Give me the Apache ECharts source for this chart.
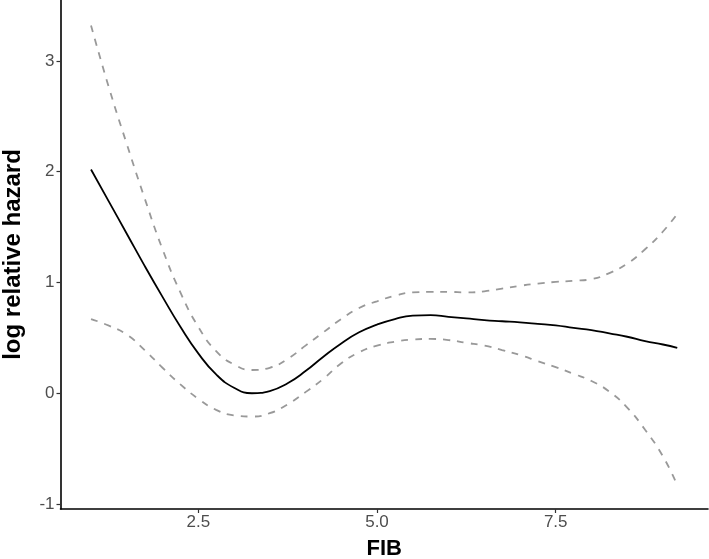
<!DOCTYPE html>
<html>
<head>
<meta charset="utf-8">
<style>
    html, body { margin: 0; padding: 0; background: #ffffff; }
    #charts { width: 709px; height: 559px; }
</style>
<script src="https://cdn.jsdelivr.net/npm/echarts@6/dist/echarts.min.js"></script>
</head>
<body>
<div id="charts"></div>
<script>
var fibValues = [1.0, 1.25, 1.5, 1.75, 2.0, 2.25, 2.5, 2.75, 3.0, 3.25, 3.5, 3.75, 4.0, 4.25, 4.5, 4.75, 5.0,
    5.25, 5.5, 5.75, 6.0, 6.25, 6.5, 6.75, 7.0, 7.25, 7.5, 7.75, 8.0, 8.25, 8.5, 8.75, 9.0, 9.2];
var fitValues = [2.02, 1.73, 1.44, 1.15, 0.87, 0.60, 0.36, 0.17, 0.05, 0.0, 0.02, 0.09, 0.20, 0.33, 0.45, 0.55, 0.62,
    0.67, 0.70, 0.705, 0.69, 0.675, 0.66, 0.65, 0.64, 0.627, 0.613, 0.59, 0.57, 0.54, 0.51, 0.47, 0.44, 0.41];
var upperValues = [3.32, 2.76, 2.25, 1.76, 1.30, 0.91, 0.60, 0.38, 0.26, 0.21, 0.23, 0.31, 0.43, 0.55, 0.67, 0.77, 0.83,
    0.88, 0.91, 0.915, 0.915, 0.91, 0.92, 0.945, 0.97, 0.99, 1.005, 1.015, 1.03, 1.085, 1.17, 1.30, 1.46, 1.62];
var lowerValues = [0.67, 0.61, 0.53, 0.39, 0.23, 0.08, -0.05, -0.15, -0.20, -0.21, -0.18, -0.10, 0.01, 0.13, 0.27, 0.37, 0.43,
    0.465, 0.485, 0.49, 0.48, 0.455, 0.43, 0.39, 0.345, 0.29, 0.235, 0.175, 0.11, 0.015, -0.13, -0.33, -0.57, -0.83];
var xTicks = [2.5, 5.0, 7.5];
var yTicks = [-1, 0, 1, 2, 3];

(function () {
    function pairs(ys) {
        return fibValues.map(function (x, i) { return [x, ys[i]]; });
    }
    var font = 'Arial, "Liberation Sans", sans-serif';
    var dom = document.getElementById("charts");
    var myChart = echarts.init(dom);
    var lineAxis = { show: true, onZero: false, lineStyle: { color: '#000000', width: 1.6 } };
    var option = {
        animation: false,
        backgroundColor: '#ffffff',
        grid: { left: 60.5, right: 1, top: 0, bottom: 50, outerBoundsMode: 'none', containLabel: false },
        xAxis: {
            type: 'value',
            name: 'FIB',
            nameLocation: 'middle',
            nameGap: 29,
            nameTextStyle: { color: '#000000', fontFamily: font, fontSize: 22, fontWeight: 'bold' },
            min: 0.573,
            max: 9.63,
            axisLine: lineAxis,
            axisTick: { show: true, length: 4, customValues: xTicks, lineStyle: { color: '#333333', width: 1.2 } },
            axisLabel: {
                customValues: xTicks,
                color: '#4d4d4d',
                fontFamily: font,
                fontSize: 17,
                margin: 5,
                formatter: function (v) { return v.toFixed(1); }
            },
            splitLine: { show: false }
        },
        yAxis: {
            type: 'value',
            name: 'log relative hazard',
            nameLocation: 'middle',
            nameGap: 35,
            nameTextStyle: { color: '#000000', fontFamily: font, fontSize: 24, fontWeight: 'bold' },
            min: -1.045,
            max: 3.55,
            axisLine: lineAxis,
            axisTick: { show: true, length: 4, customValues: yTicks, lineStyle: { color: '#333333', width: 1.2 } },
            axisLabel: { customValues: yTicks, color: '#4d4d4d', fontFamily: font, fontSize: 17, margin: 6 },
            splitLine: { show: false }
        },
        series: [
            {
                name: 'upper',
                type: 'line',
                smooth: true,
                symbol: 'none',
                lineStyle: { color: '#999999', width: 1.8, type: [7, 7] },
                data: pairs(upperValues)
            },
            {
                name: 'lower',
                type: 'line',
                smooth: true,
                symbol: 'none',
                lineStyle: { color: '#999999', width: 1.8, type: [7, 7] },
                data: pairs(lowerValues)
            },
            {
                name: 'fit',
                type: 'line',
                smooth: true,
                symbol: 'none',
                lineStyle: { color: '#000000', width: 1.8 },
                data: pairs(fitValues)
            }
        ]
    };
    myChart.setOption(option, true);
})();
</script>
</body>
</html>
